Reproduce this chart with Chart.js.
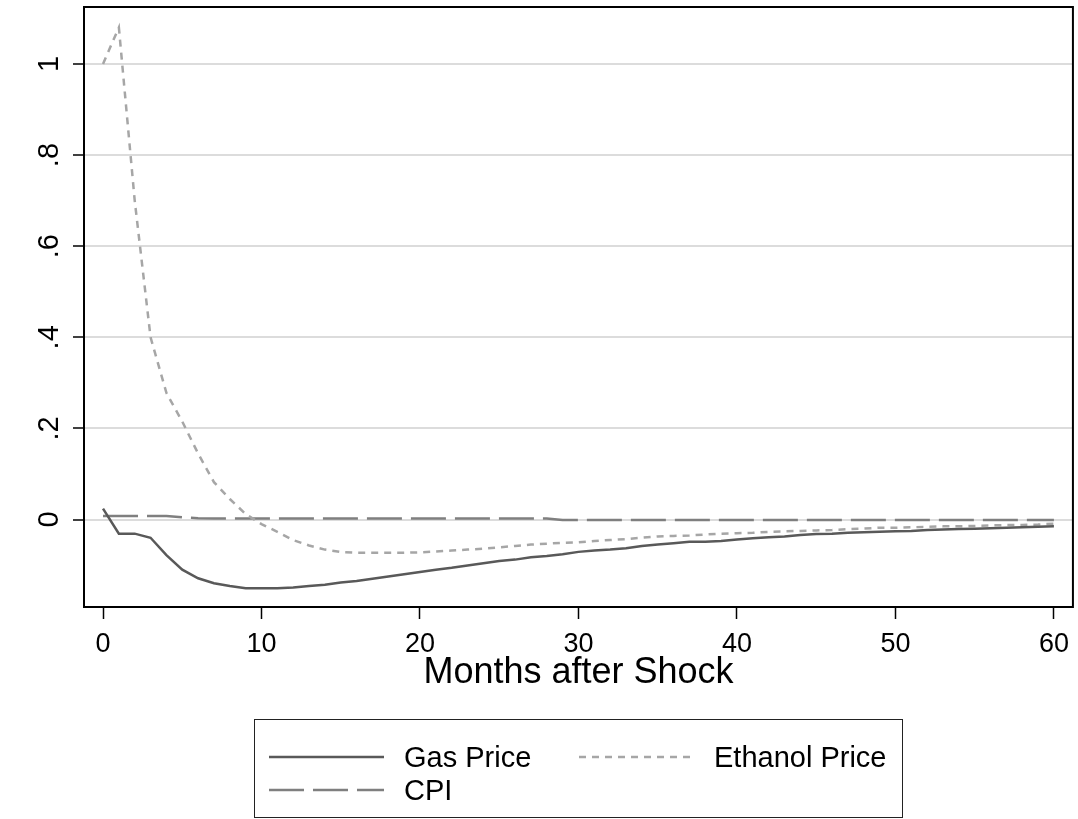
<!DOCTYPE html>
<html>
<head>
<meta charset="utf-8">
<script src="https://cdn.jsdelivr.net/npm/chart.js@4/dist/chart.umd.min.js"></script>
<style>
  html, body { margin: 0; padding: 0; background: #fff; }
  #wrap { position: relative; width: 1078px; height: 819px; }
  #legend {
    position: absolute; left: 254px; top: 719px; width: 647px; height: 97px;
    border: 1.5px solid #222; box-sizing: content-box;
    font-family: 'Liberation Sans', Arial, sans-serif; font-size: 29px; color: #000;
  }
  .item { position: absolute; height: 30px; display: flex; align-items: center; white-space: nowrap; }
  .item svg { margin-right: 20px; }
</style>
</head>
<body>
<div id="wrap">
  <canvas id="irfChart" width="1078" height="819"></canvas>
  <div id="legend"></div>
</div>
<script>
// months after the shock
const months = [];
for (let m = 0; m <= 60; m++) months.push(m);

// impulse responses
const gasPrice = [
  0.024, -0.031, -0.031, -0.040, -0.078, -0.110, -0.129, -0.140, -0.146, -0.151,
  -0.151, -0.151, -0.149, -0.146, -0.143, -0.138, -0.135, -0.130, -0.125, -0.120,
  -0.115, -0.110, -0.106, -0.101, -0.096, -0.091, -0.088, -0.083, -0.080, -0.076,
  -0.071, -0.068, -0.066, -0.063, -0.058, -0.055, -0.052, -0.049, -0.049, -0.047,
  -0.044, -0.041, -0.039, -0.037, -0.034, -0.032, -0.031, -0.029, -0.028, -0.027,
  -0.026, -0.025, -0.023, -0.022, -0.021, -0.020, -0.019, -0.018, -0.017, -0.016,
  -0.015
];
const ethanolPrice = [
  1.000, 1.080, 0.700, 0.400, 0.278, 0.215, 0.145, 0.082, 0.045, 0.012,
  -0.010, -0.027, -0.045, -0.057, -0.066, -0.071, -0.073, -0.073, -0.073, -0.073,
  -0.072, -0.070, -0.068, -0.066, -0.064, -0.061, -0.058, -0.055, -0.053, -0.051,
  -0.050, -0.047, -0.045, -0.043, -0.040, -0.037, -0.036, -0.035, -0.033, -0.031,
  -0.030, -0.029, -0.027, -0.026, -0.025, -0.024, -0.023, -0.021, -0.020, -0.018,
  -0.018, -0.017, -0.016, -0.015, -0.015, -0.014, -0.013, -0.012, -0.012, -0.011,
  -0.009
];
const cpi = [
  0.008, 0.008, 0.008, 0.008, 0.008, 0.005, 0.003, 0.002, 0.002, 0.002,
  0.002, 0.002, 0.002, 0.002, 0.002, 0.002, 0.002, 0.002, 0.002, 0.002,
  0.002, 0.002, 0.002, 0.002, 0.002, 0.002, 0.002, 0.002, 0.002, -0.001,
  -0.001, -0.001, -0.001, -0.001, -0.001, -0.001, -0.001, -0.001, -0.001, -0.001,
  -0.001, -0.001, -0.001, -0.001, -0.001, -0.001, -0.001, -0.001, -0.001, -0.001,
  -0.001, -0.001, -0.001, -0.001, -0.001, -0.001, -0.001, -0.001, -0.001, -0.001,
  -0.001
];

const xTicks = [0, 10, 20, 30, 40, 50, 60];
const yTicks = [0, 0.2, 0.4, 0.6, 0.8, 1];
const yTickLabels = ['0', '.2', '.4', '.6', '.8', '1'];

const FONT = "'Liberation Sans', Arial, sans-serif";

function toPoints(ys) {
  return months.map((m, i) => ({ x: m, y: ys[i] }));
}

// frame around the plot region + rotated y tick labels (Stata style)
const framePlugin = {
  id: 'frame',
  afterDatasetsDraw(chart) {
    const { ctx, chartArea: a } = chart;
    ctx.save();
    ctx.strokeStyle = '#000';
    ctx.lineWidth = 2;
    ctx.strokeRect(a.left, a.top, a.right - a.left, a.bottom - a.top);
    ctx.restore();
  },
  afterDraw(chart) {
    const { ctx } = chart;
    const y = chart.scales.y;
    ctx.save();
    ctx.font = '29px ' + FONT;
    ctx.fillStyle = '#000';
    ctx.textAlign = 'center';
    ctx.textBaseline = 'middle';
    yTicks.forEach((v, i) => {
      ctx.save();
      ctx.translate(50, y.getPixelForValue(v));
      ctx.rotate(-Math.PI / 2);
      ctx.fillText(yTickLabels[i], 0, 0);
      ctx.restore();
    });
    ctx.restore();
  }
};

const chart = new Chart(document.getElementById('irfChart'), {
  type: 'line',
  data: {
    datasets: [
      { label: 'Gas Price', data: toPoints(gasPrice), borderColor: '#595959', borderWidth: 2.5, borderDash: [] },
      { label: 'Ethanol Price', data: toPoints(ethanolPrice), borderColor: '#a6a6a6', borderWidth: 2.5, borderDash: [7, 6] },
      { label: 'CPI', data: toPoints(cpi), borderColor: '#7f7f7f', borderWidth: 2.5, borderDash: [35, 9] }
    ]
  },
  options: {
    responsive: false,
    animation: false,
    elements: { point: { radius: 0 }, line: { tension: 0 } },
    layout: { padding: { left: 0, right: 4, top: 7, bottom: 124 } },
    plugins: { legend: { display: false }, tooltip: { enabled: false } },
    scales: {
      x: {
        type: 'linear',
        min: -1.2,
        max: 61.2,
        afterBuildTicks: s => { s.ticks = xTicks.map(v => ({ value: v })); },
        afterFit: s => { s.height = 88; },
        border: { display: false },
        grid: { drawOnChartArea: false, tickColor: '#000', tickLength: 12, tickWidth: 1.5 },
        ticks: { font: { family: FONT, size: 27 }, color: '#000', padding: 9, maxRotation: 0 },
        title: { display: true, text: 'Months after Shock', font: { family: FONT, size: 36 }, color: '#000', padding: 0 }
      },
      y: {
        type: 'linear',
        min: -0.192,
        max: 1.125,
        afterBuildTicks: s => { s.ticks = yTicks.map(v => ({ value: v })); },
        afterFit: s => { s.width = 84; },
        border: { display: false },
        grid: { color: '#dcdcdc', lineWidth: 2, tickColor: '#000', tickLength: 11, tickWidth: 1.5 },
        ticks: { display: false }
      }
    }
  },
  plugins: [framePlugin]
});

// legend box built from the datasets
const legendPos = [[14, 22], [324, 22], [14, 55]];
const legendEl = document.getElementById('legend');
chart.data.datasets.forEach((ds, i) => {
  const item = document.createElement('div');
  item.className = 'item';
  item.style.left = legendPos[i][0] + 'px';
  item.style.top = legendPos[i][1] + 'px';
  const dash = ds.borderDash.length ? ds.borderDash.join(' ') : 'none';
  item.innerHTML =
    '<svg width="115" height="10"><line x1="0" y1="5" x2="115" y2="5" stroke="' + ds.borderColor +
    '" stroke-width="2.5" stroke-dasharray="' + dash + '"/></svg><span>' + ds.label + '</span>';
  legendEl.appendChild(item);
});
</script>
</body>
</html>
